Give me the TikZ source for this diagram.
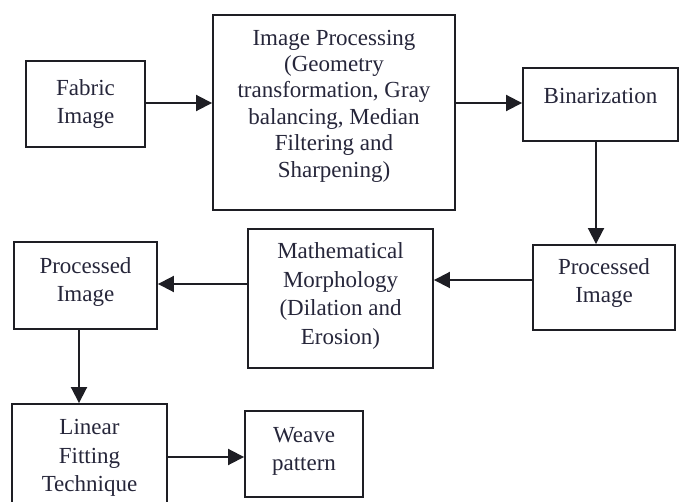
\documentclass[tikz,border=0pt]{standalone}
\usepackage{fontspec}
\setmainfont{Liberation Serif}
\usetikzlibrary{arrows.meta}
\definecolor{ink}{HTML}{1E1E24}
\definecolor{txt}{HTML}{26263A}
\tikzset{
  box/.style={draw=ink, line width=1.9pt, fill=none, inner sep=0pt},
  lbl/.style={text=txt, align=center, inner sep=0pt, font=\fontsize{23}{28.5}\selectfont},
  lblip/.style={lbl, font=\fontsize{23}{26.4}\selectfont},
  arr/.style={draw=ink, line width=1.9pt, -{Triangle[length=16pt,width=16pt]}}
}
\begin{document}
\begin{tikzpicture}[x=1pt,y=-1pt]
\useasboundingbox (0,0) rectangle (680,502);
\clip (0,0) rectangle (680,502);
\fill[white] (0,0) rectangle (680,502);
% boxes
\node[box, minimum width=119pt, minimum height=86pt] (fab) at (85.5,104) {};
\node[box, minimum width=242pt, minimum height=195pt] (ip) at (334,112.5) {};
\node[box, minimum width=155pt, minimum height=73pt] (bin) at (600.5,104.5) {};
\node[box, minimum width=142pt, minimum height=85pt] (rpi) at (604,287.5) {};
\node[box, minimum width=185pt, minimum height=139pt] (mm) at (340.5,298.5) {};
\node[box, minimum width=143pt, minimum height=87pt] (lpi) at (85.5,285.5) {};
\node[box, minimum width=155pt, minimum height=106pt] (lf) at (89.5,457) {};
\node[box, minimum width=118pt, minimum height=86pt] (wv) at (304,454) {};
% texts
\node[lbl] (fabT) at (85.5,104) {Fabric\\Image};
\node[lblip] (ipT) at (334,106) {Image Processing\\(Geometry\\transformation, Gray\\balancing, Median\\Filtering and\\Sharpening)};
\node[lbl] (binT) at (600.5,96) {Binarization};
\node[lbl] (rpiT) at (604,283) {Processed\\Image};
\node[lbl] (mmT) at (340.5,296) {Mathematical\\Morphology\\(Dilation and\\Erosion)};
\node[lbl] (lpiT) at (85.5,282) {Processed\\Image};
\node[lbl] (lfT) at (89.5,458) {Linear\\Fitting\\Technique};
\node[lbl] (wvT) at (304,451.5) {Weave\\pattern};
% connector anchor points
\coordinate (c1) at ([yshift=1pt]fab.east);
\coordinate (c2) at ([xshift=-4.5pt]bin.south);
\coordinate (c3) at ([yshift=7.5pt]rpi.west);
\coordinate (c4) at ([yshift=14.5pt]mm.west);
\coordinate (c5) at ([xshift=-6.5pt]lpi.south);
% connectors
\draw[arr] (c1) -- (ip.west |- c1);
\draw[arr] (ip.east |- c1) -- (bin.west |- c1);
\draw[arr] (c2) -- (rpi.north -| c2);
\draw[arr] (c3) -- (mm.east |- c3);
\draw[arr] (c4) -- (lpi.east |- c4);
\draw[arr] (c5) -- (lf.north -| c5);
\draw[arr] (lf.east) -- (wv.west |- lf.east);
\end{tikzpicture}
\end{document}
